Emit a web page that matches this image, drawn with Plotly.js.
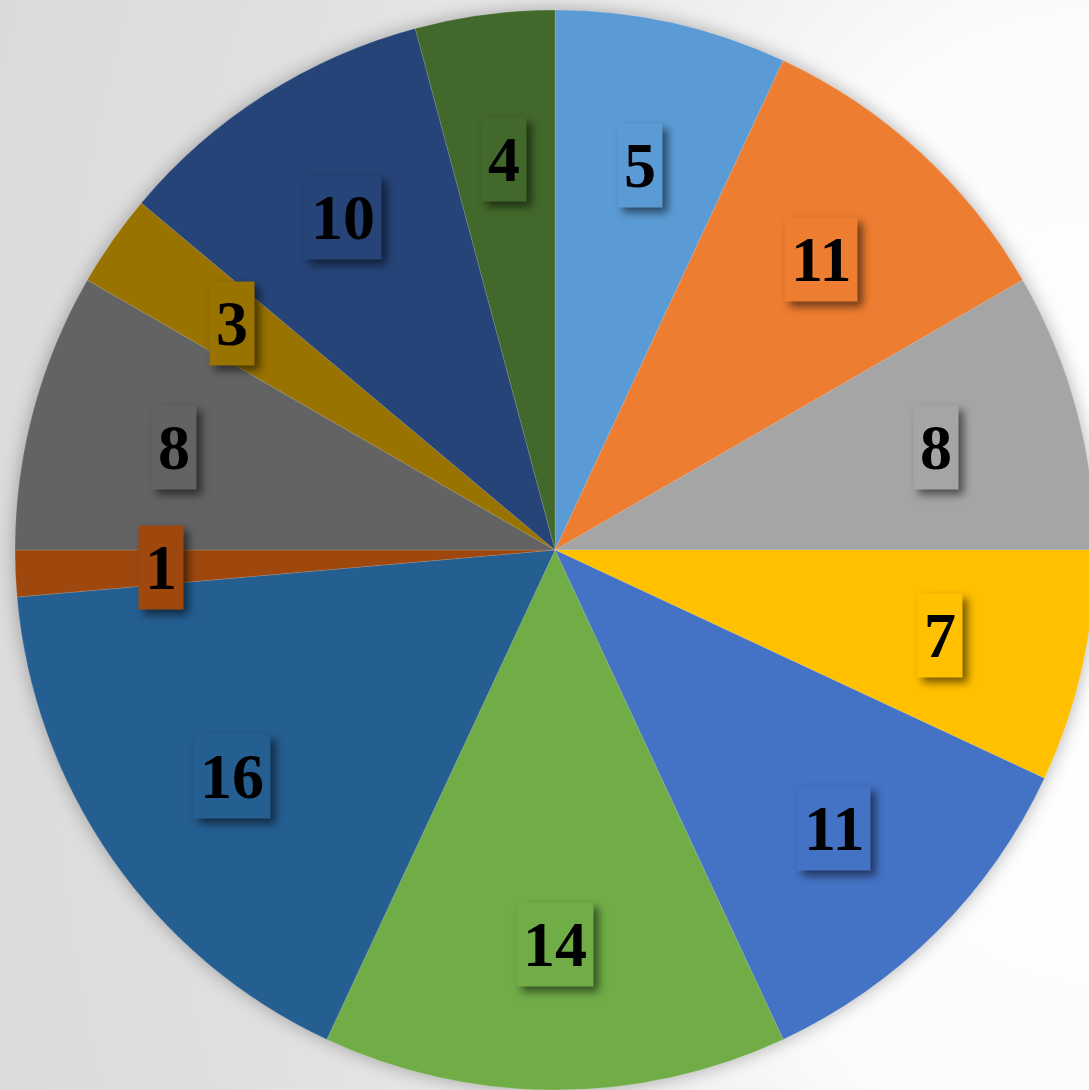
<!DOCTYPE html>
<html>
<head>
<meta charset="utf-8">
<script src="https://cdn.plot.ly/plotly-3.0.1.min.js"></script>
<style>
html, body { margin:0; padding:0; overflow:hidden; width:1089px; height:1090px;
  background: radial-gradient(ellipse 1300px 1900px at 100% 55%, #ffffff 0%, #fcfcfc 30%, #ededed 45%, #e0e0e0 68%, #d8d8d8 100%); }
#chart { width:1100px; height:1090px; }
.pielayer .trace { filter: drop-shadow(0px 0px 9px rgba(0,0,0,0.3)); }
.annotation.lbl .bg { filter: drop-shadow(5px 5px 4px rgba(0,0,0,0.55)); }
</style>
</head>
<body>
<div id="chart"></div>
<script>
// Slice sizes (relative shares, in 5-degree units)
const sliceShares = [5, 7, 6, 5, 8, 10, 12, 1, 6, 2, 7, 3];
// Numbers printed on the slices
const labelValues = ["5", "11", "8", "7", "11", "14", "16", "1", "8", "3", "10", "4"];
const categories = ["A","B","C","D","E","F","G","H","I","J","K","L"];
const sliceColors = ["#5B9BD5","#ED7D31","#A5A5A5","#FFC000","#4472C4","#70AD47",
                     "#255E91","#9E480E","#636363","#997300","#264478","#43682B"];

const W = 1100, H = 1090;
const cxPx = 555, cyPx = 550, R = 540;
const domX = [(cxPx - R) / W, (cxPx + R) / W];
const domY = [1 - (cyPx + R) / H, 1 - (cyPx - R) / H];

const total = sliceShares.reduce((a, b) => a + b, 0);
const annotations = [];
let cum = 0;
const labelR = 0.73 * R;
sliceShares.forEach((v, i) => {
  const mid = (cum + v / 2) / total * 2 * Math.PI;
  cum += v;
  const px = cxPx + labelR * Math.sin(mid);
  const py = cyPx - labelR * Math.cos(mid);
  annotations.push({
    xref: "paper", yref: "paper", x: px / W, y: 1 - py / H,
    text: "<b>" + labelValues[i] + "</b>", showarrow: false,
    font: { family: "Liberation Serif, Times New Roman, serif", size: 64, color: "#000000" },
    bgcolor: sliceColors[i], borderpad: 6,
    xanchor: "center", yanchor: "middle"
  });
});

const data = [{
  type: "pie",
  values: sliceShares,
  labels: categories,
  sort: false,
  direction: "clockwise",
  rotation: 0,
  textinfo: "none",
  hoverinfo: "skip",
  marker: { colors: sliceColors, line: { color: "rgba(255,255,255,0.22)", width: 0.6 } },
  domain: { x: domX, y: domY },
  showlegend: false
}];

const layout = {
  width: W, height: H,
  margin: { l: 0, r: 0, t: 0, b: 0 },
  paper_bgcolor: "rgba(0,0,0,0)",
  plot_bgcolor: "rgba(0,0,0,0)",
  showlegend: false,
  annotations: annotations
};

Plotly.newPlot("chart", data, layout, { staticPlot: true }).then(() => {
  document.querySelectorAll(".annotation").forEach(a => a.classList.add("lbl"));
});
</script>
</body>
</html>
